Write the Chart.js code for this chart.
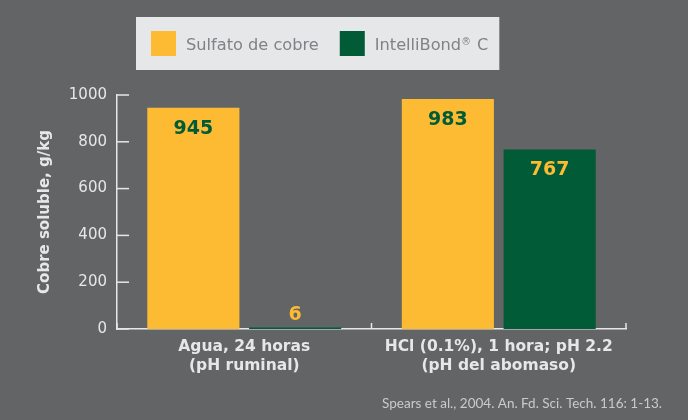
<!DOCTYPE html>
<html>
<head>
<meta charset="utf-8">
<script src="https://cdn.jsdelivr.net/npm/chart.js@4.4.1/dist/chart.umd.min.js"></script>
<style>
  html, body { margin: 0; padding: 0; background: #636466; }
  #wrap { width: 688px; height: 420px; position: relative; }
</style>
</head>
<body>
<div id="wrap"><canvas id="c" width="688" height="420"></canvas></div>
<script>
const categories = [['Agua, 24 horas', '(pH ruminal)'], ['HCl (0.1%), 1 hora; pH 2.2', '(pH del abomaso)']];
const seriesNames = ['Sulfato de cobre', 'IntelliBond® C'];
const sulfatoValues = [945, 983];
const intelliValues = [6, 767];
const yTickValues = [0, 200, 400, 600, 800, 1000];
const yTitle = 'Cobre soluble, g/kg';
const citation = 'Spears et al., 2004. An. Fd. Sci. Tech. 116: 1-13.';

const YELLOW = '#FDBB33';
const GREEN = '#005B36';
const LIGHT = '#E6E7E8';
const FONT = '"DejaVu Sans", sans-serif';
const FONT2 = 'Lato, "Open Sans", sans-serif';

const axisTicksPlugin = {
  id: 'axisTicks',
  afterDraw(chart) {
    const ctx = chart.ctx, ca = chart.chartArea;
    const ys = chart.scales.y, xs = chart.scales.x;
    ctx.save();
    ctx.strokeStyle = LIGHT;
    ctx.lineWidth = 1.5;
    ys.ticks.forEach((t, i) => {
      const y = ys.getPixelForTick(i);
      ctx.beginPath(); ctx.moveTo(ca.left, y); ctx.lineTo(ca.left + 12, y); ctx.stroke();
    });
    const n = xs.ticks.length;
    for (let i = 0; i <= n; i++) {
      const x = xs.getPixelForValue(i - 0.5);
      ctx.beginPath(); ctx.moveTo(x, ca.bottom); ctx.lineTo(x, ca.bottom - 6); ctx.stroke();
    }
    ctx.restore();
  }
};

const valueLabelPlugin = {
  id: 'valueLabels',
  afterDatasetsDraw(chart) {
    const ctx = chart.ctx;
    ctx.save();
    ctx.font = 'bold 19px ' + FONT;
    ctx.textAlign = 'center';
    ctx.textBaseline = 'middle';
    chart.data.datasets.forEach((ds, di) => {
      const meta = chart.getDatasetMeta(di);
      const other = chart.data.datasets[1 - di].backgroundColor;
      meta.data.forEach((bar, i) => {
        const v = ds.data[i];
        const h = bar.base - bar.y;
        ctx.fillStyle = other;
        if (h > 40) ctx.fillText(String(v), bar.x, bar.y + 21);
        else ctx.fillText(String(v), bar.x, bar.y - 13);
      });
    });
    ctx.restore();
  }
};

const LEG_SIZE = 16.2;
function legendParts(label) {
  const idx = label.indexOf('®');
  if (idx < 0) return [{ t: label, sup: false }];
  return [{ t: label.slice(0, idx), sup: false }, { t: '®', sup: true }, { t: label.slice(idx + 1), sup: false }];
}
function measureParts(ctx, parts) {
  let w = 0;
  parts.forEach(p => {
    ctx.font = (p.sup ? LEG_SIZE * 0.6 : LEG_SIZE) + 'px ' + FONT;
    w += ctx.measureText(p.t).width;
  });
  return w;
}

const legendBoxPlugin = {
  id: 'legendBox',
  afterDraw(chart) {
    const ctx = chart.ctx;
    ctx.save();
    const left = 136, top = 17, height = 53;
    let x = left + 15;
    const items = chart.data.datasets.map(ds => ({ parts: legendParts(ds.label), color: ds.backgroundColor }));
    const widths = items.map(it => measureParts(ctx, it.parts));
    let total = 15;
    widths.forEach((w, i) => { total += 25 + 10 + w + (i < widths.length - 1 ? 21 : 12); });
    ctx.fillStyle = LIGHT;
    ctx.fillRect(left, top, total, height);
    ctx.textBaseline = 'alphabetic';
    items.forEach((it, i) => {
      ctx.fillStyle = it.color;
      ctx.fillRect(x, 31, 25, 25);
      x += 35;
      ctx.fillStyle = '#808285';
      let tx = x;
      it.parts.forEach(p => {
        ctx.font = (p.sup ? LEG_SIZE * 0.6 : LEG_SIZE) + 'px ' + FONT;
        ctx.fillText(p.t, tx, p.sup ? 45 : 50);
        tx += ctx.measureText(p.t).width + (p.sup ? 1 : 0);
      });
      x += widths[i] + 21;
    });
    ctx.restore();
  }
};

const citationPlugin = {
  id: 'citation',
  afterDraw(chart) {
    const ctx = chart.ctx;
    ctx.save();
    ctx.font = '13.5px ' + FONT2;
    ctx.fillStyle = '#C9CACC';
    ctx.textAlign = 'right';
    ctx.textBaseline = 'middle';
    ctx.fillText(citation, 662, 404);
    ctx.restore();
  }
};

new Chart(document.getElementById('c'), {
  type: 'bar',
  data: {
    labels: categories,
    datasets: [
      { label: seriesNames[0], data: sulfatoValues, backgroundColor: YELLOW },
      { label: seriesNames[1], data: intelliValues, backgroundColor: GREEN }
    ]
  },
  options: {
    responsive: false,
    animation: false,
    devicePixelRatio: 1,
    layout: { padding: { top: 95, right: 62, left: 0, bottom: 0 } },
    datasets: { bar: { categoryPercentage: 0.8, barPercentage: 0.905 } },
    plugins: { legend: { display: false }, tooltip: { enabled: false } },
    scales: {
      x: {
        grid: { display: false, drawTicks: false },
        border: { display: true, color: LIGHT, width: 1.5 },
        ticks: { color: LIGHT, font: { family: FONT, size: 15.5, weight: 'bold', lineHeight: 1.25 }, padding: 8 },
        afterFit(s) { s.height = 91; }
      },
      y: {
        min: 0, max: 1000,
        afterBuildTicks(s) { s.ticks = yTickValues.map(v => ({ value: v })); },
        grid: { display: false, drawTicks: false },
        border: { display: true, color: LIGHT, width: 1.5 },
        ticks: { color: LIGHT, font: { family: FONT, size: 15 }, padding: 10, callback: v => String(v) },
        title: { display: true, text: yTitle, color: LIGHT, font: { family: FONT, size: 15, weight: 'bold' }, padding: { top: 36, bottom: 0 } },
        afterFit(s) { s.width = 117; }
      }
    }
  },
  plugins: [axisTicksPlugin, valueLabelPlugin, legendBoxPlugin, citationPlugin]
});
</script>
</body>
</html>
